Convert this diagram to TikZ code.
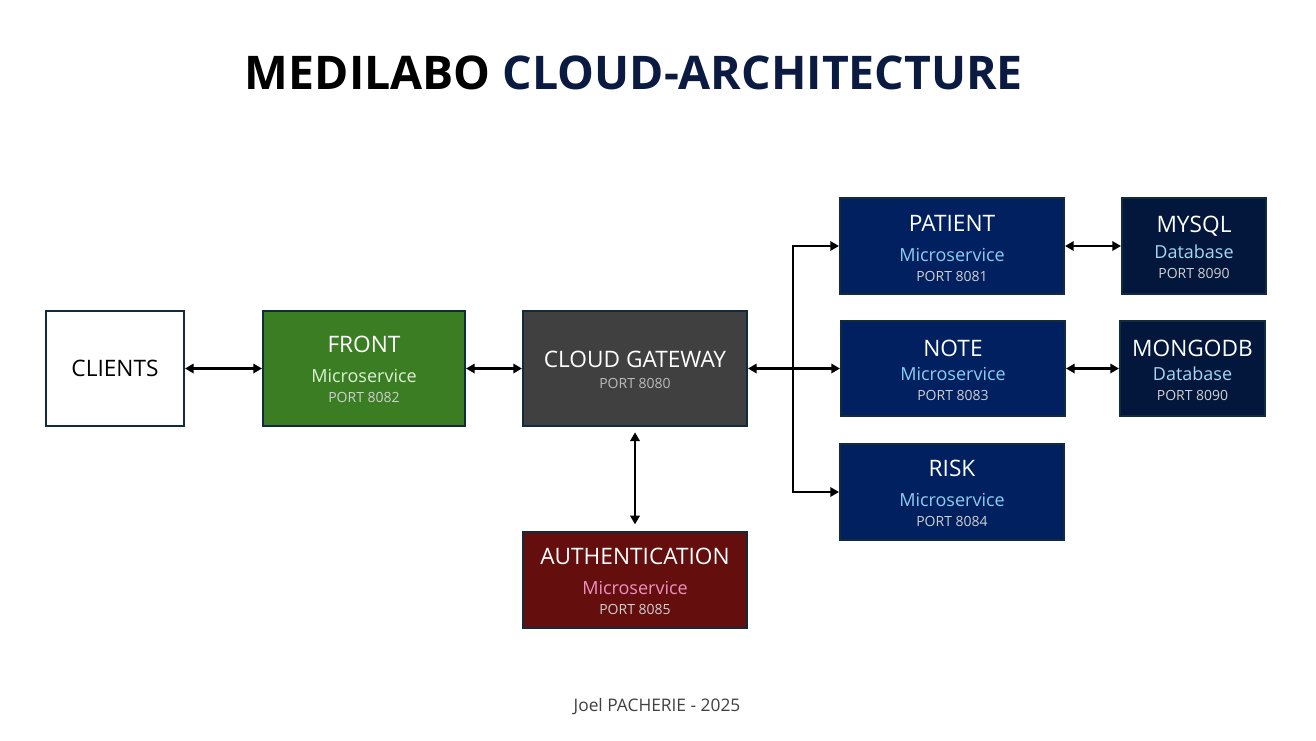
\documentclass[tikz,border=0pt]{standalone}
\usepackage{fontspec}
\setmainfont{Open Sans}
\usetikzlibrary{arrows.meta}
\definecolor{bordc}{HTML}{112A3C}
\definecolor{frontc}{HTML}{3B7D23}
\definecolor{gwc}{HTML}{404040}
\definecolor{msc}{HTML}{002060}
\definecolor{dbc}{HTML}{03173D}
\definecolor{authc}{HTML}{640E0E}
\definecolor{bluet}{HTML}{8CCDF0}
\definecolor{dbt}{HTML}{A6D8F0}
\definecolor{greent}{HTML}{DAF2D0}
\definecolor{pinkt}{HTML}{F08FC0}
\definecolor{portt}{HTML}{D0D0D0}
\definecolor{titlec}{HTML}{0A1A40}
\definecolor{footc}{HTML}{404040}
\tikzset{
  box/.style={draw=bordc, line width=1.5pt, inner sep=0pt, minimum width=168pt, minimum height=72pt},
  bigt/.style={inner sep=0pt, text=white, font=\fontsize{17}{20}\selectfont},
  midt/.style={inner sep=0pt, font=\fontsize{13.5}{16}\selectfont},
  portl/.style={inner sep=0pt, text=portt, font=\fontsize{10.5}{12}\selectfont},
  conn/.style={line width=2.2pt, black},
  dbl/.style={conn, {Triangle[length=6.5pt,width=7pt]}-{Triangle[length=6.5pt,width=7pt]}},
  sgl/.style={conn, -{Triangle[length=6.5pt,width=7pt]}}
}
\begin{document}
\begin{tikzpicture}[x=0.75pt,y=-0.75pt]
\useasboundingbox[fill=white] (0,0) rectangle (1316,740);
% title
\node[inner sep=0pt, font=\bfseries\fontsize{34.8}{40}\selectfont] (title) at (634,73) {MEDILABO \textcolor{titlec}{CLOUD-ARCHITECTURE}};
% boxes
\node[box, fill=white, minimum width=103.5pt, minimum height=86.25pt] (clients) at (115,368.5) {};
\node[box, fill=frontc, minimum width=151.5pt, minimum height=86.25pt] (front) at (364,368.5) {};
\node[box, fill=gwc, minimum height=86.25pt] (gw) at (635,368.5) {};
\node[box, fill=msc] (patient) at (952,246) {};
\node[box, fill=dbc, minimum width=108pt] (mysql) at (1194,246) {};
\node[box, fill=msc, minimum height=71.25pt] (note) at (953,368.5) {};
\node[box, fill=dbc, minimum width=108.75pt, minimum height=71.25pt] (mongo) at (1192.5,368.5) {};
\node[box, fill=msc] (risk) at (952,492) {};
\node[box, fill=authc] (auth) at (635,580) {};
% texts
\node[bigt, text=black] (tclients) at (115,368) {CLIENTS};
\node[bigt] (tfront) at (364,344) {FRONT};
\node[midt, text=greent] (mfront) at (364,376) {Microservice};
\node[portl] (pfront) at (364,397) {PORT 8082};
\node[bigt] (tgw) at (635,359) {CLOUD GATEWAY};
\node[portl, text=portt!90!black] (pgw) at (635,383) {PORT 8080};
\node[bigt] (tpatient) at (952,223) {PATIENT};
\node[midt, text=bluet] (mpatient) at (952,255) {Microservice};
\node[portl] (ppatient) at (952,276) {PORT 8081};
\node[bigt] (tmysql) at (1194,226) {MYSQL};
\node[midt, text=dbt] (mmysql) at (1194,252) {Database};
\node[portl] (pmysql) at (1194,273) {PORT 8090};
\node[bigt] (tnote) at (953,348) {NOTE};
\node[midt, text=bluet] (mnote) at (953,374) {Microservice};
\node[portl] (pnote) at (953,395) {PORT 8083};
\node[bigt] (tmongo) at (1192.5,348) {MONGODB};
\node[midt, text=dbt] (mmongo) at (1192.5,374) {Database};
\node[portl] (pmongo) at (1192.5,395) {PORT 8090};
\node[bigt] (trisk) at (952,468) {RISK};
\node[midt, text=bluet] (mrisk) at (952,500) {Microservice};
\node[portl] (prisk) at (952,521) {PORT 8084};
\node[bigt] (tauth) at (635,556) {AUTHENTICATION};
\node[midt, text=pinkt] (mauth) at (635,588) {Microservice};
\node[portl] (pauth) at (635,609) {PORT 8085};
% footer
\node[inner sep=0pt, text=footc, font=\fontsize{13}{15}\selectfont] (footer) at (657,707) {Joel PACHERIE - 2025};
% connectors
\draw[dbl] (clients.east) -- (front.west);
\draw[dbl] (front.east) -- (gw.west);
\draw[dbl] (gw.east) -- (note.west);
\coordinate (bt) at (793,246);
\coordinate (bb) at (793,492);
\draw[conn, line cap=rect] (bt) -- (bb);
\draw[sgl] (bt) -- (patient.west);
\draw[sgl] (bb) -- (risk.west);
\draw[dbl, shorten <=4pt, shorten >=5pt] (gw.south) -- (auth.north);
\draw[dbl] (patient.east) -- (mysql.west);
\draw[dbl] (note.east) -- (mongo.west);
\end{tikzpicture}
\end{document}
